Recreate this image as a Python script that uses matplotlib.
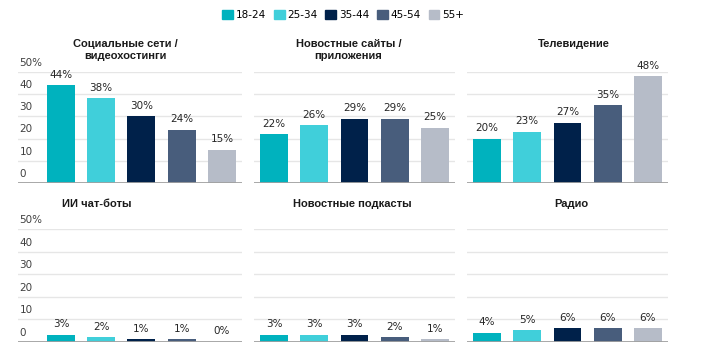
import matplotlib.pyplot as plt
from matplotlib.patches import Patch

ages = ['18-24', '25-34', '35-44', '45-54', '55+']
colors = ['#00B2BE', '#40CFDA', '#00214A', '#485D7C', '#B6BCC8']

titles = ['Социальные сети /\nвидеохостинги', 'Новостные сайты /\nприложения', 'Телевидение',
          'ИИ чат-боты', 'Новостные подкасты', 'Радио']
social = [44, 38, 30, 24, 15]
news_sites = [22, 26, 29, 29, 25]
tv = [20, 23, 27, 35, 48]
ai_bots = [3, 2, 1, 1, 0]
podcasts = [3, 3, 3, 2, 1]
radio = [4, 5, 6, 6, 6]
values = [social, news_sites, tv, ai_bots, podcasts, radio]

yticks = [0, 10, 20, 30, 40, 50]
ytick_labels = ['0', '10', '20', '30', '40', '50%']

fig = plt.figure(figsize=(7.19, 3.54), dpi=100)

W, H = 719, 354
cols = [(18, 224, -1.068), (254, 201, -0.5), (467, 201, -0.5)]
rows = [(183.3, 111.6), (341.7, 112.2)]
title_x = [0.48, 0.47, 0.53, 0.35, 0.49, 0.52]
title_top = [39, 39, 39, 199, 199, 199]

for i in range(6):
    r, c = divmod(i, 3)
    left, width, x0 = cols[c]
    base, height = rows[r]
    ax = fig.add_axes([left / W, (H - base) / H, width / W, height / H])
    ax.set_xlim(x0, 4.5)
    ax.set_ylim(0, 50)
    for v in yticks[1:]:
        ax.axhline(v, color='#E6E6E6', lw=1, zorder=0)
    ax.axhline(0, color='#A0A0A0', lw=2, zorder=3)
    ax.bar(range(5), values[i], width=0.695, color=colors, zorder=2)
    for k, v in enumerate(values[i]):
        ax.annotate(f'{v}%', (k, v), xytext=(0, 4), textcoords='offset points',
                    ha='center', va='bottom', fontsize=7.5, color='#262626')
    if c == 0:
        for v, lab in zip(yticks, ytick_labels):
            ax.annotate(lab, (0, v), xycoords=ax.get_yaxis_transform(), xytext=(1, 3),
                        textcoords='offset points', ha='left', va='bottom',
                        fontsize=7.5, color='#404040')
    ax.axis('off')
    fig.text((left + title_x[i] * width) / W, (H - title_top[i]) / H, titles[i],
             ha='center', va='top', fontsize=8, fontweight='bold',
             family='Liberation Sans', color='#1A1A1A', linespacing=1.25)

handles = [Patch(color=col, label=a) for col, a in zip(colors, ages)]
fig.legend(handles=handles, loc='center', bbox_to_anchor=(343 / W, (H - 15) / H), ncol=5,
           frameon=False, fontsize=7.5, handlelength=1.05, handleheight=1.05,
           handletextpad=0.25, columnspacing=0.75, borderpad=0)

fig.savefig('out.png', dpi=100)
